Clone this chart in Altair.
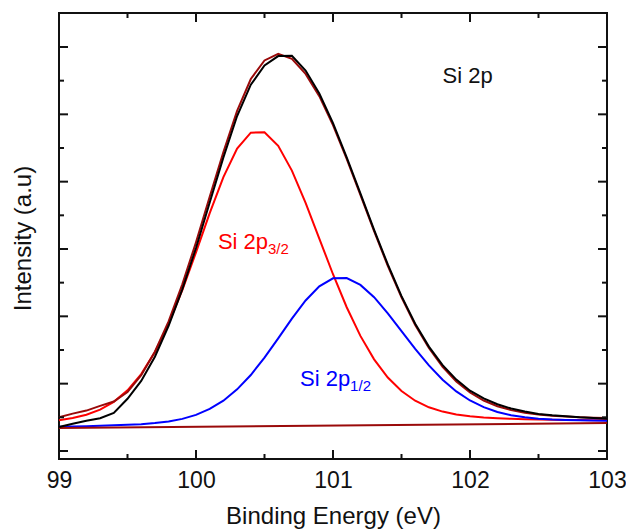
import altair as alt
import pandas as pd

# ---------------- data ----------------
energy = [99.0, 99.1, 99.2, 99.3, 99.4, 99.5, 99.6, 99.7, 99.8, 99.9,
          100.0, 100.1, 100.2, 100.3, 100.4, 100.5, 100.6, 100.7, 100.8, 100.9,
          101.0, 101.1, 101.2, 101.3, 101.4, 101.5, 101.6, 101.7, 101.8, 101.9,
          102.0, 102.1, 102.2, 102.3, 102.4, 102.5, 102.6, 102.7, 102.8, 102.9,
          103.0]

# measured spectrum (black)
data_counts = [1713, 1810, 1900, 1975, 2130, 2550, 3080, 3800, 4720, 5800,
               7030, 8380, 9720, 10950, 11880, 12450, 12730, 12740, 12300, 11620,
               10740, 9720, 8650, 7570, 6540, 5600, 4780, 4100, 3550, 3120,
               2790, 2560, 2390, 2260, 2170, 2100, 2060, 2030, 2000, 1980,
               1960]

# fitted envelope (dark red)
envelope = [2000, 2110, 2200, 2340, 2470, 2750, 3250, 3950, 4850, 5950,
            7200, 8550, 9880, 11100, 12050, 12600, 12800, 12650, 12200, 11540,
            10680, 9680, 8610, 7530, 6500, 5565, 4744, 4057, 3501, 3065,
            2737, 2499, 2330, 2214, 2136, 2083, 2047, 2022, 2004, 1990,
            1980]

# Si 2p3/2 component (red)
peak_3_2 = [1916, 1979, 2077, 2230, 2460, 2800, 3285, 3939, 4777, 5781,
            6900, 8063, 9137, 9984, 10454, 10466, 10064, 9328, 8370, 7310,
            6250, 5270, 4419, 3722, 3181, 2780, 2493, 2298, 2170, 2086,
            2031, 1996, 1972, 1956, 1944, 1935, 1928, 1923, 1918, 1914,
            1912]

# Si 2p1/2 component (blue)
peak_1_2 = [1723, 1731, 1738, 1749, 1761, 1777, 1797, 1830, 1878, 1954,
            2072, 2248, 2493, 2831, 3257, 3772, 4347, 4932, 5472, 5893,
            6129, 6135, 5934, 5568, 5090, 4561, 4030, 3542, 3118, 2769,
            2500, 2301, 2159, 2063, 2001, 1961, 1935, 1919, 1910, 1903,
            1899]

# linear background (dark red)
bg_energy = [99.0, 103.0]
bg_counts = [1683, 1831]

# axis ticks
x_major = [99, 100, 101, 102, 103]
x_minor = [99.5, 100.5, 101.5, 102.5]
y_major = [1000, 3000, 5000, 7000, 9000, 11000, 13000]
y_minor = [2000, 4000, 6000, 8000, 10000, 12000]

# annotations
ann_text = ["Si 2p", "Si 2p", "Si 2p"]
ann_x = [101.80, 100.16, 100.76]
ann_y = [11930, 7000, 2930]
ann_color = ["#111111", "#FF0000", "#0000FF"]
sub_text = ["3/2", "1/2"]
sub_x = [100.16, 100.76]
sub_y = [7000, 2930]
sub_color = ["#FF0000", "#0000FF"]

# ---------------- chart ----------------
W, H = 548, 446
FONT = "Liberation Sans"
DARKRED = "#9A0A0A"
INK = "#111111"

xs = alt.Scale(domain=[99, 103], nice=False, zero=False)
ys = alt.Scale(domain=[762, 14010], nice=False, zero=False)

X_AXIS = alt.Axis(
    title="Binding Energy (eV)", values=x_major, format="d",
    labelFontSize=23, labelFont=FONT, labelColor=INK,
    labelPadding=28, labelBaseline="alphabetic", labelFlush=False,
    ticks=False, tickSize=0, domain=False, grid=False,
    titleFontSize=24, titleFont=FONT, titleFontWeight="normal",
    titleColor=INK, titleX=W / 2, titleY=64,
    titleAlign="center", titleBaseline="alphabetic")
Y_AXIS = alt.Axis(
    title="Intensity (a.u)", labels=False, ticks=False, tickSize=0,
    domain=False, grid=False,
    titleFontSize=24, titleFont=FONT, titleFontWeight="normal",
    titleColor=INK, titleX=-36, titleY=225, titleAngle=270,
    titleAlign="center", titleBaseline="middle")


def X():
    return alt.X("E:Q", scale=xs, axis=X_AXIS, title="Binding Energy (eV)")


def Y():
    return alt.Y("I:Q", scale=ys, axis=Y_AXIS, title="Intensity (a.u)")


def line_layer(xv, yv, color, width=2.0):
    df = pd.DataFrame({"E": xv, "I": yv})
    return alt.Chart(df).mark_line(color=color, strokeWidth=width).encode(x=X(), y=Y())


def xtick_layer(vals, y0, y1):
    df = pd.DataFrame({"E": vals})
    return alt.Chart(df).mark_rule(color=INK, strokeWidth=2).encode(
        x=X(), y=alt.value(y0), y2=alt.value(y1))


def ytick_layer(vals, x0, x1):
    df = pd.DataFrame({"I": vals})
    return alt.Chart(df).mark_rule(color=INK, strokeWidth=2).encode(
        y=Y(), x=alt.value(x0), x2=alt.value(x1))


red = line_layer(energy, peak_3_2, "#FF0000")
blue = line_layer(energy, peak_1_2, "#0000FF")
bg = line_layer(bg_energy, bg_counts, DARKRED)
env = line_layer(energy, envelope, DARKRED)
meas = line_layer(energy, data_counts, "#000000")

ann_df = pd.DataFrame({"E": ann_x, "I": ann_y, "t": ann_text, "c": ann_color})
ann = alt.Chart(ann_df).mark_text(
    align="left", baseline="alphabetic", fontSize=22, font=FONT).encode(
    x=X(), y=Y(), text="t:N", color=alt.Color("c:N", scale=None))

sub_df = pd.DataFrame({"E": sub_x, "I": sub_y, "t": sub_text, "c": sub_color})
sub = alt.Chart(sub_df).mark_text(
    align="left", baseline="alphabetic", fontSize=15, font=FONT, dx=50, dy=5).encode(
    x=X(), y=Y(), text="t:N", color=alt.Color("c:N", scale=None))

ticks = [
    xtick_layer(x_major, H, H - 9), xtick_layer(x_minor, H, H - 5),
    xtick_layer(x_major, 0, 9), xtick_layer(x_minor, 0, 5),
    ytick_layer(y_major, 0, 9), ytick_layer(y_minor, 0, 5),
    ytick_layer(y_major, W - 9, W), ytick_layer(y_minor, W - 5, W),
]

chart = alt.layer(red, blue, bg, env, meas, ann, sub, *ticks).properties(
    width=W, height=H,
    autosize=alt.AutoSizeParams(type="none"),
    padding={"left": 59, "top": 13, "right": 19, "bottom": 70},
    background="white",
).configure_view(stroke=INK, strokeWidth=2)

chart.save("out.html", embed_options={"renderer": "svg", "actions": False})
